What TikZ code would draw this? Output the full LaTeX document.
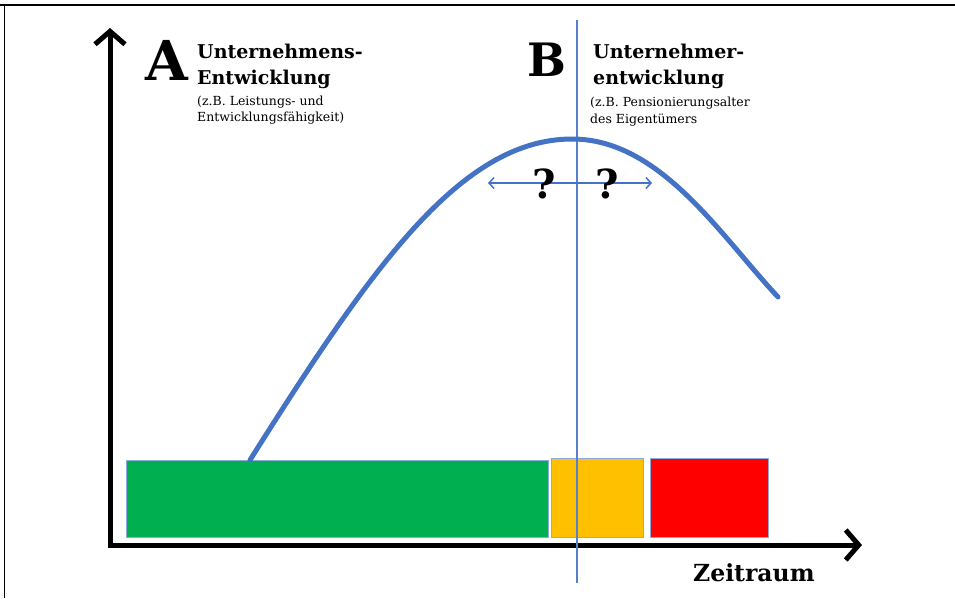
\documentclass[tikz,border=0pt]{standalone}
\usepackage{fontspec}
\setmainfont{DejaVu Serif}
\usetikzlibrary{arrows.meta}
\definecolor{kurve}{RGB}{68,114,196}
\definecolor{gruen}{RGB}{0,176,80}
\definecolor{gelb}{RGB}{255,192,0}
\definecolor{rot}{RGB}{255,0,0}
\begin{document}
\begin{tikzpicture}[x=1pt,y=-1pt,
  achse/.style={line width=5pt, {Straight Barb[length=13pt,width=30pt]}-{Straight Barb[length=13pt,width=30pt]}},
  balken/.style={draw=kurve!60, thin},
  titel/.style={anchor=base west, inner sep=0pt, font=\bfseries\fontsize{19}{22}\selectfont},
  klein/.style={anchor=base west, inner sep=0pt, font=\fontsize{12.5}{14}\selectfont},
  gross/.style={anchor=base west, inner sep=0pt, font=\bfseries\fontsize{#1}{#1}\selectfont}]
\useasboundingbox (0,0) rectangle (955,598);
% Rahmen
\draw[line width=2.5pt] (0,5) -- (955,5);
\draw[line width=1.5pt] (4.5,5) -- (4.5,598);
% Balken
\filldraw[balken, fill=gruen] (126,460) rectangle (548,537);
\filldraw[balken, fill=gelb] (551,458) rectangle (643,537);
\filldraw[balken, fill=rot] (650,458) rectangle (768,537);
% Achsen
\coordinate (ytip) at (110,28);
\coordinate (O) at (110,545);
\coordinate (xtip) at (862,545);
\draw[achse] (ytip) -- (O) -- (xtip);
\node[gross=23.5] (zeit) at (693,581) {Zeitraum};
% Trennlinie
\coordinate (oben) at (577,20);
\coordinate (unten) at (577,583);
\draw[kurve!90, line width=1.3pt] (oben) -- (unten);
% Kurve
\coordinate (start) at (250,460);
\coordinate (gipfel) at (572,139);
\coordinate (ende) at (778,297);
\draw[kurve, line width=5pt, line cap=round] (start) .. controls (370,270) and (460,139) .. (gipfel)
  .. controls (660,139) and (720,235) .. (ende);
% Fragen
\coordinate (links) at (488,183);
\coordinate (rechts) at (652,183);
\draw[kurve, line width=1.5pt, {Straight Barb[length=5pt,width=11pt]}-{Straight Barb[length=5pt,width=11pt]}] (links) -- (rechts);
\node[gross=40, anchor=base] (f1) at (544,198) {?};
\node[gross=40, anchor=base] (f2) at (607,198) {?};
% A
\node[gross=55] (A) at (145,80) {A};
\node[titel] (A1) at (197,58) {Unternehmens-};
\node[titel] (A2) at (197,84) {Entwicklung};
\node[klein] (A3) at (197,105) {(z.B. Leistungs- und};
\node[klein] (A4) at (197,121) {Entwicklungsfähigkeit)};
% B
\node[gross=46] (B) at (527,76) {B};
\node[titel] (B1) at (593,58) {Unternehmer-};
\node[titel] (B2) at (593,84) {entwicklung};
\node[klein] (B3) at (590,106) {(z.B. Pensionierungsalter};
\node[klein] (B4) at (590,123) {des Eigentümers};
\end{tikzpicture}
\end{document}
